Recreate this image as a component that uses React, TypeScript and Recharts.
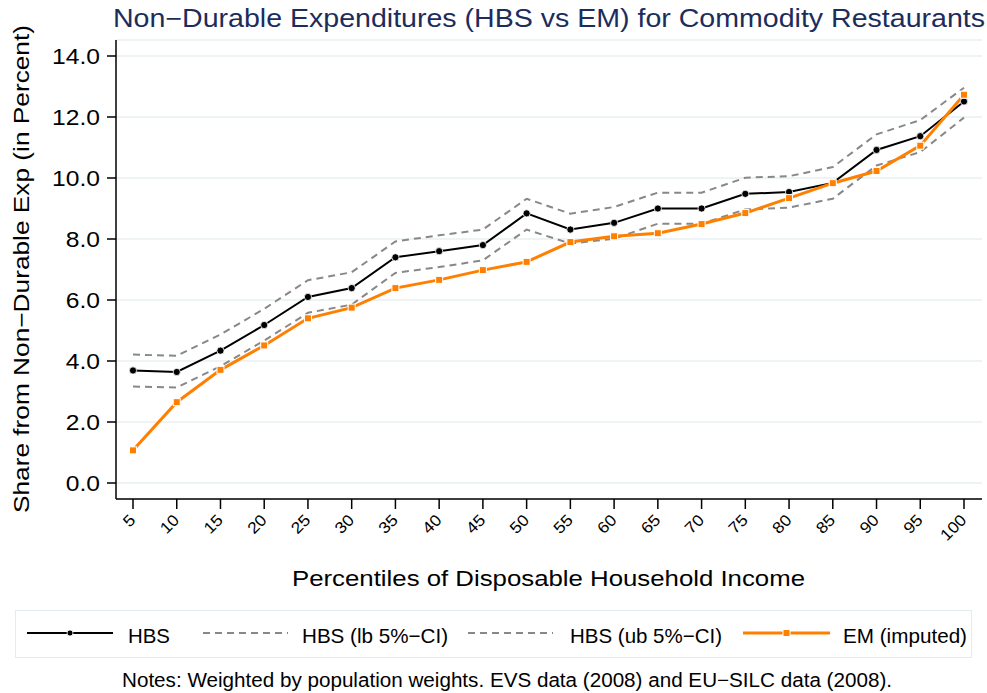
import React from 'react'
import { LineChart, Line, XAxis, YAxis, CartesianGrid, Label } from 'recharts'

const percentiles = [5, 10, 15, 20, 25, 30, 35, 40, 45, 50, 55, 60, 65, 70, 75, 80, 85, 90, 95, 100]
const hbs = [3.69, 3.64, 4.34, 5.18, 6.1, 6.39, 7.4, 7.6, 7.8, 8.84, 8.31, 8.53, 9.0, 9.0, 9.48, 9.54, 9.84, 10.92, 11.37, 12.51]
const hbsLb = [3.16, 3.13, 3.83, 4.67, 5.58, 5.85, 6.89, 7.08, 7.3, 8.31, 7.85, 8.01, 8.5, 8.5, 8.97, 9.03, 9.32, 10.41, 10.85, 11.98]
const hbsUb = [4.21, 4.17, 4.87, 5.71, 6.65, 6.91, 7.92, 8.12, 8.31, 9.32, 8.83, 9.05, 9.52, 9.52, 10.01, 10.06, 10.36, 11.43, 11.9, 12.96]
const em = [1.07, 2.65, 3.71, 4.51, 5.4, 5.75, 6.39, 6.66, 6.98, 7.25, 7.9, 8.09, 8.19, 8.49, 8.85, 9.34, 9.83, 10.23, 11.06, 12.73]
const yTicks = [0, 2, 4, 6, 8, 10, 12, 14]

const FONT = '"Liberation Sans", Arial, Helvetica, sans-serif'
const ORANGE = '#ff8000'
const GREY = '#888888'

const data = percentiles.map((p, i) => ({
  p,
  hbs: hbs[i],
  lb: hbsLb[i],
  ub: hbsUb[i],
  em: em[i],
}))

const RoundDot = (props: any) => {
  const { cx, cy } = props
  if (cx == null || cy == null) return null
  return <circle cx={cx} cy={cy} r={3.6} fill="#000" stroke="#fff" strokeWidth={0.8} />
}

const SquareDot = (props: any) => {
  const { cx, cy } = props
  if (cx == null || cy == null) return null
  return <rect x={cx - 3.5} y={cy - 3.5} width={7} height={7} fill={ORANGE} stroke="#fff" strokeWidth={1} />
}

// rotated percentile labels, anchored at their end just below the tick
const XTick = (props: any) => {
  const { x, payload } = props
  const ax = x + 3.5
  const ay = 521
  return (
    <g transform={`translate(${ax}, ${ay}) rotate(-45) scale(1.1, 1)`}>
      <text x={0} y={0} textAnchor="end" fontSize={16} fontFamily={FONT} fill="#000">
        {payload.value}
      </text>
    </g>
  )
}

// stata-ish wide numerals on the y axis
const YTick = (props: any) => {
  const { x, y, payload } = props
  return (
    <g transform={`translate(100, ${y}) scale(1.12, 1)`}>
      <text x={0} y={0} textAnchor="end" dominantBaseline="central" fontSize={22} fontFamily={FONT} fill="#000">
        {Number(payload.value).toFixed(1)}
      </text>
    </g>
  )
}

const legendItems = [
  { kind: 'hbs', label: 'HBS', x1: 27, x2: 113, textX: 128, len: 42 },
  { kind: 'dash', label: 'HBS (lb 5%\u2212CI)', x1: 203, x2: 288, textX: 302, len: 146 },
  { kind: 'dash', label: 'HBS (ub 5%\u2212CI)', x1: 468, x2: 553, textX: 570, len: 152 },
  { kind: 'em', label: 'EM (imputed)', x1: 743, x2: 830, textX: 843, len: 124 },
]

function LegendSample({ kind, x1, x2 }: { kind: string; x1: number; x2: number }) {
  const y = 633
  const mid = (x1 + x2) / 2
  if (kind === 'hbs') {
    return (
      <g>
        <line x1={x1} y1={y} x2={x2} y2={y} stroke="#000" strokeWidth={2} />
        <circle cx={mid} cy={y} r={3} fill="#000" stroke="#fff" strokeWidth={0.8} />
      </g>
    )
  }
  if (kind === 'em') {
    return (
      <g>
        <line x1={x1} y1={y} x2={x2} y2={y} stroke={ORANGE} strokeWidth={3} />
        <rect x={mid - 3.5} y={y - 3.5} width={7} height={7} fill={ORANGE} stroke="#fff" strokeWidth={1} />
      </g>
    )
  }
  return <line x1={x1} y1={y} x2={x2} y2={y} stroke={GREY} strokeWidth={2} strokeDasharray="7 5" />
}

export default function App() {
  return (
    <div style={{ position: 'absolute', left: 0, top: 0, width: 987, height: 693, background: '#fff' }}>
      <LineChart width={987} height={693} data={data} margin={{ top: 40, right: 5, bottom: 94, left: 0 }}>
        <CartesianGrid horizontal vertical={false} stroke="#e8f0f2" strokeWidth={1.5} />
        <XAxis
          dataKey="p"
          type="number"
          domain={[5, 100]}
          ticks={percentiles}
          interval={0}
          padding={{ left: 17, right: 18 }}
          height={100}
          tickSize={10}
          stroke="#000"
          strokeWidth={1.5}
          tick={<XTick />}
        >
          <Label
            content={() => (
              <text
                x={292}
                y={586}
                textLength={513}
                lengthAdjust="spacingAndGlyphs"
                fontSize={22}
                fontFamily={FONT}
                fill="#000"
              >
                Percentiles of Disposable Household Income
              </text>
            )}
          />
        </XAxis>
        <YAxis
          type="number"
          domain={[0, 14]}
          ticks={yTicks}
          padding={{ top: 16, bottom: 16 }}
          width={116}
          tickSize={9}
          stroke="#000"
          strokeWidth={1.5}
          tick={<YTick />}
        >
          <Label
            content={() => (
              <text
                x={29}
                y={513}
                transform="rotate(-90, 29, 513)"
                textLength={488}
                lengthAdjust="spacingAndGlyphs"
                fontSize={22}
                fontFamily={FONT}
                fill="#000"
              >
                Share from Non&minus;Durable Exp (in Percent)
              </text>
            )}
          />
        </YAxis>
        <Line dataKey="lb" stroke={GREY} strokeWidth={2} strokeDasharray="7 5" dot={false} isAnimationActive={false} />
        <Line dataKey="ub" stroke={GREY} strokeWidth={2} strokeDasharray="7 5" dot={false} isAnimationActive={false} />
        <Line dataKey="hbs" stroke="#000" strokeWidth={2} dot={<RoundDot />} isAnimationActive={false} />
        <Line dataKey="em" stroke={ORANGE} strokeWidth={3} dot={<SquareDot />} isAnimationActive={false} />
      </LineChart>
      <svg
        width={987}
        height={693}
        style={{ position: 'absolute', left: 0, top: 0, pointerEvents: 'none' }}
        fontFamily={FONT}
      >
        <text x={113} y={27} textLength={872} lengthAdjust="spacingAndGlyphs" fontSize={25} fill="#1c2d5c">
          Non&minus;Durable Expenditures (HBS vs EM) for Commodity Restaurants
        </text>
        <rect x={15.5} y={610.5} width={956} height={47} fill="none" stroke="#e3ecee" strokeWidth={1} />
        {legendItems.map((it) => (
          <g key={it.label}>
            <LegendSample kind={it.kind} x1={it.x1} x2={it.x2} />
            <text x={it.textX} y={642.5} textLength={it.len} lengthAdjust="spacingAndGlyphs" fontSize={21} fill="#000">
              {it.label}
            </text>
          </g>
        ))}
        <text x={122} y={687} textLength={770} lengthAdjust="spacingAndGlyphs" fontSize={20} fill="#000">
          Notes: Weighted by population weights. EVS data (2008) and EU&minus;SILC data (2008).
        </text>
      </svg>
    </div>
  )
}
